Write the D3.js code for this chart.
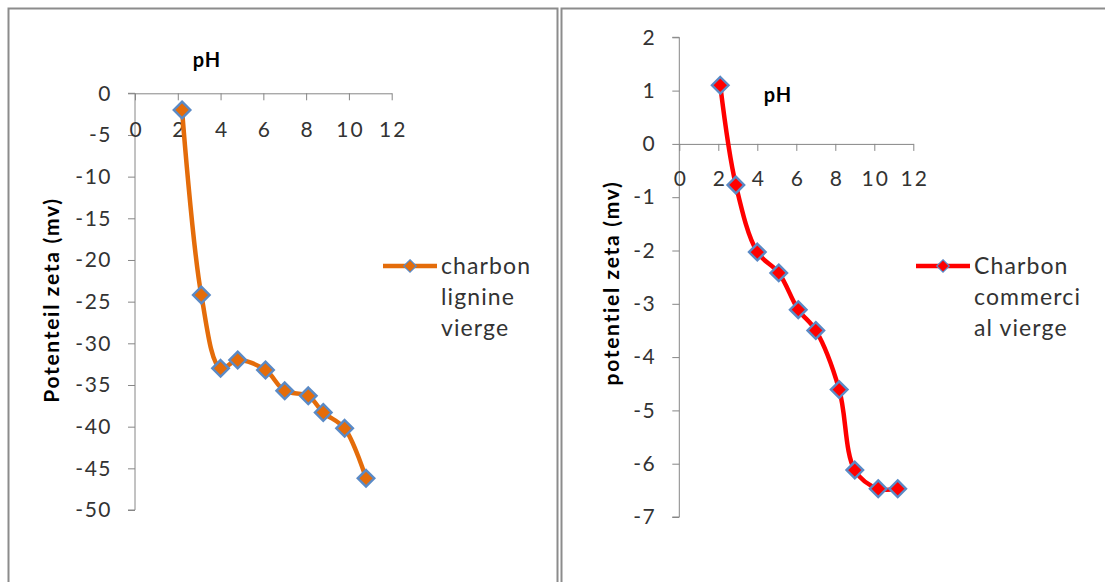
<!DOCTYPE html>
<html><head><meta charset="utf-8">
<script src="https://cdnjs.cloudflare.com/ajax/libs/d3/7.8.5/d3.min.js"></script>
<style>
body{margin:0;background:#fff;}
svg text{font-family:Lato,"Open Sans",sans-serif;}
</style></head><body>
<svg id="c" width="1105" height="582"></svg>
<script>
// Left chart: charbon lignine vierge
const leftPH = [2.2, 3.1, 4.0, 4.8, 6.1, 7.0, 8.1, 8.8, 9.8, 10.8];
const leftZeta = [-2.0, -24.2, -33.0, -32.0, -33.2, -35.7, -36.3, -38.3, -40.2, -46.2];
const leftXTicks = [0, 2, 4, 6, 8, 10, 12];
const leftYTicks = [0, -5, -10, -15, -20, -25, -30, -35, -40, -45, -50];
const leftLegend = ["charbon", "lignine", "vierge"];
const leftYTitle = "Potenteil zeta (mv)";
// Right chart: Charbon commercial vierge
const rightPH = [2.1, 2.9, 4.0, 5.1, 6.1, 7.0, 8.2, 9.0, 10.2, 11.2];
const rightZeta = [1.1, -0.77, -2.03, -2.42, -3.11, -3.5, -4.61, -6.12, -6.47, -6.47];
const rightXTicks = [0, 2, 4, 6, 8, 10, 12];
const rightYTicks = [2, 1, 0, -1, -2, -3, -4, -5, -6, -7];
const rightLegend = ["Charbon", "commerci", "al vierge"];
const rightYTitle = "potentiel zeta (mv)";
const xTitle = "pH";

const svg = d3.select("#c");
const gray = "#868686";
const txt = "#333333";

// panel borders
svg.append("path").attr("d","M8.5,600V8.5H557.5V600").attr("fill","none").attr("stroke","#8c8c8c").attr("stroke-width",2);
svg.append("path").attr("d","M561.5,600V8.5H1110").attr("fill","none").attr("stroke","#8c8c8c").attr("stroke-width",2);

function chart(cfg){
  const x = d3.scaleLinear().domain([0,12]).range(cfg.xr);
  const y = d3.scaleLinear().domain(cfg.yd).range(cfg.yr);
  const g = svg.append("g");
  // y axis
  const ya = g.append("g").attr("transform",`translate(${x(0)},0)`)
    .call(d3.axisLeft(y).tickValues(cfg.yTicks).tickSize(7).tickPadding(16).tickFormat(d=>d<0?"-"+Math.abs(d):d));
  ya.select(".domain").attr("stroke",gray).attr("d",`M-7,${y(cfg.yd[0])}H0V${y(cfg.yd[1])}H-7`);
  ya.selectAll(".tick line").attr("stroke",gray);
  ya.selectAll("text").attr("fill",txt).style("font-size","21px").style("font-family","Lato").style("letter-spacing","1.5px");
  // x axis at zero
  const xa = g.append("g").attr("transform",`translate(0,${y(0)})`)
    .call(d3.axisBottom(x).tickValues(cfg.xTicks).tickSize(7).tickSizeOuter(0));
  xa.select(".domain").attr("stroke",gray);
  xa.selectAll(".tick line").attr("stroke",gray);
  xa.selectAll("text").attr("fill",txt).attr("y",cfg.xLabOff).attr("dy","0.35em").attr("dx","1px")
    .style("font-size","21px").style("font-family","Lato").style("letter-spacing","2px");
  // titles
  g.append("text").attr("x",cfg.pH[0]).attr("y",cfg.pH[1]).attr("text-anchor","middle").attr("dy","0.35em")
    .style("font-weight","bold").style("font-size","20px").style("letter-spacing","1px").attr("fill","#000").text(xTitle);
  g.append("text").attr("transform",`translate(${cfg.yt[0]},${cfg.yt[1]}) rotate(-90)`).attr("text-anchor","middle").attr("dy","0.35em")
    .style("font-weight","bold").style("font-size","21px").style("letter-spacing","1.7px").attr("fill","#000").text(cfg.yTitle);
  // line
  const pts = cfg.xs.map((v,i)=>[x(v),y(cfg.ys[i])]);
  g.append("path").attr("d",d3.line().curve(d3.curveCatmullRom.alpha(0.5))(pts))
    .attr("fill","none").attr("stroke",cfg.color).attr("stroke-width",4.5).attr("stroke-linejoin","round");
  const sym = d3.symbol().type(d3.symbolDiamond2).size(175);
  g.selectAll(".m").data(pts).join("path").attr("transform",d=>`translate(${d[0]},${d[1]})`)
    .attr("d",sym).attr("fill",cfg.color).attr("stroke","#5a8ac6").attr("stroke-width",2.4);
  // legend
  const lg = g.append("g");
  lg.append("line").attr("x1",cfg.lg[0]).attr("x2",cfg.lg[0]+54).attr("y1",cfg.lg[1]).attr("y2",cfg.lg[1])
    .attr("stroke",cfg.color).attr("stroke-width",4.5);
  lg.append("path").attr("transform",`translate(${cfg.lg[0]+27},${cfg.lg[1]})`).attr("d",d3.symbol().type(d3.symbolDiamond2).size(100))
    .attr("fill",cfg.color).attr("stroke","#5a8ac6").attr("stroke-width",1.2);
  cfg.legend.forEach((t,i)=>{
    lg.append("text").attr("x",cfg.lg[0]+58).attr("y",cfg.lg[1]+i*31).attr("dy","0.35em")
      .style("font-size","23px").style("letter-spacing","1.1px").attr("fill",txt).text(t);
  });
}

chart({xr:[135,391.7], yd:[0,-50], yr:[93.3,510], yTicks:leftYTicks, xTicks:leftXTicks, xLabOff:36,
  pH:[207,60], yt:[52,300], yTitle:leftYTitle, xs:leftPH, ys:leftZeta, color:"#e46c0a",
  lg:[383,266], legend:leftLegend});
chart({xr:[679.3,913.3], yd:[2,-7], yr:[37.3,517], yTicks:rightYTicks, xTicks:rightXTicks, xLabOff:35,
  pH:[778,95], yt:[612,283], yTitle:rightYTitle, xs:rightPH, ys:rightZeta, color:"#ff0000",
  lg:[916,266], legend:rightLegend});
</script></body></html>
